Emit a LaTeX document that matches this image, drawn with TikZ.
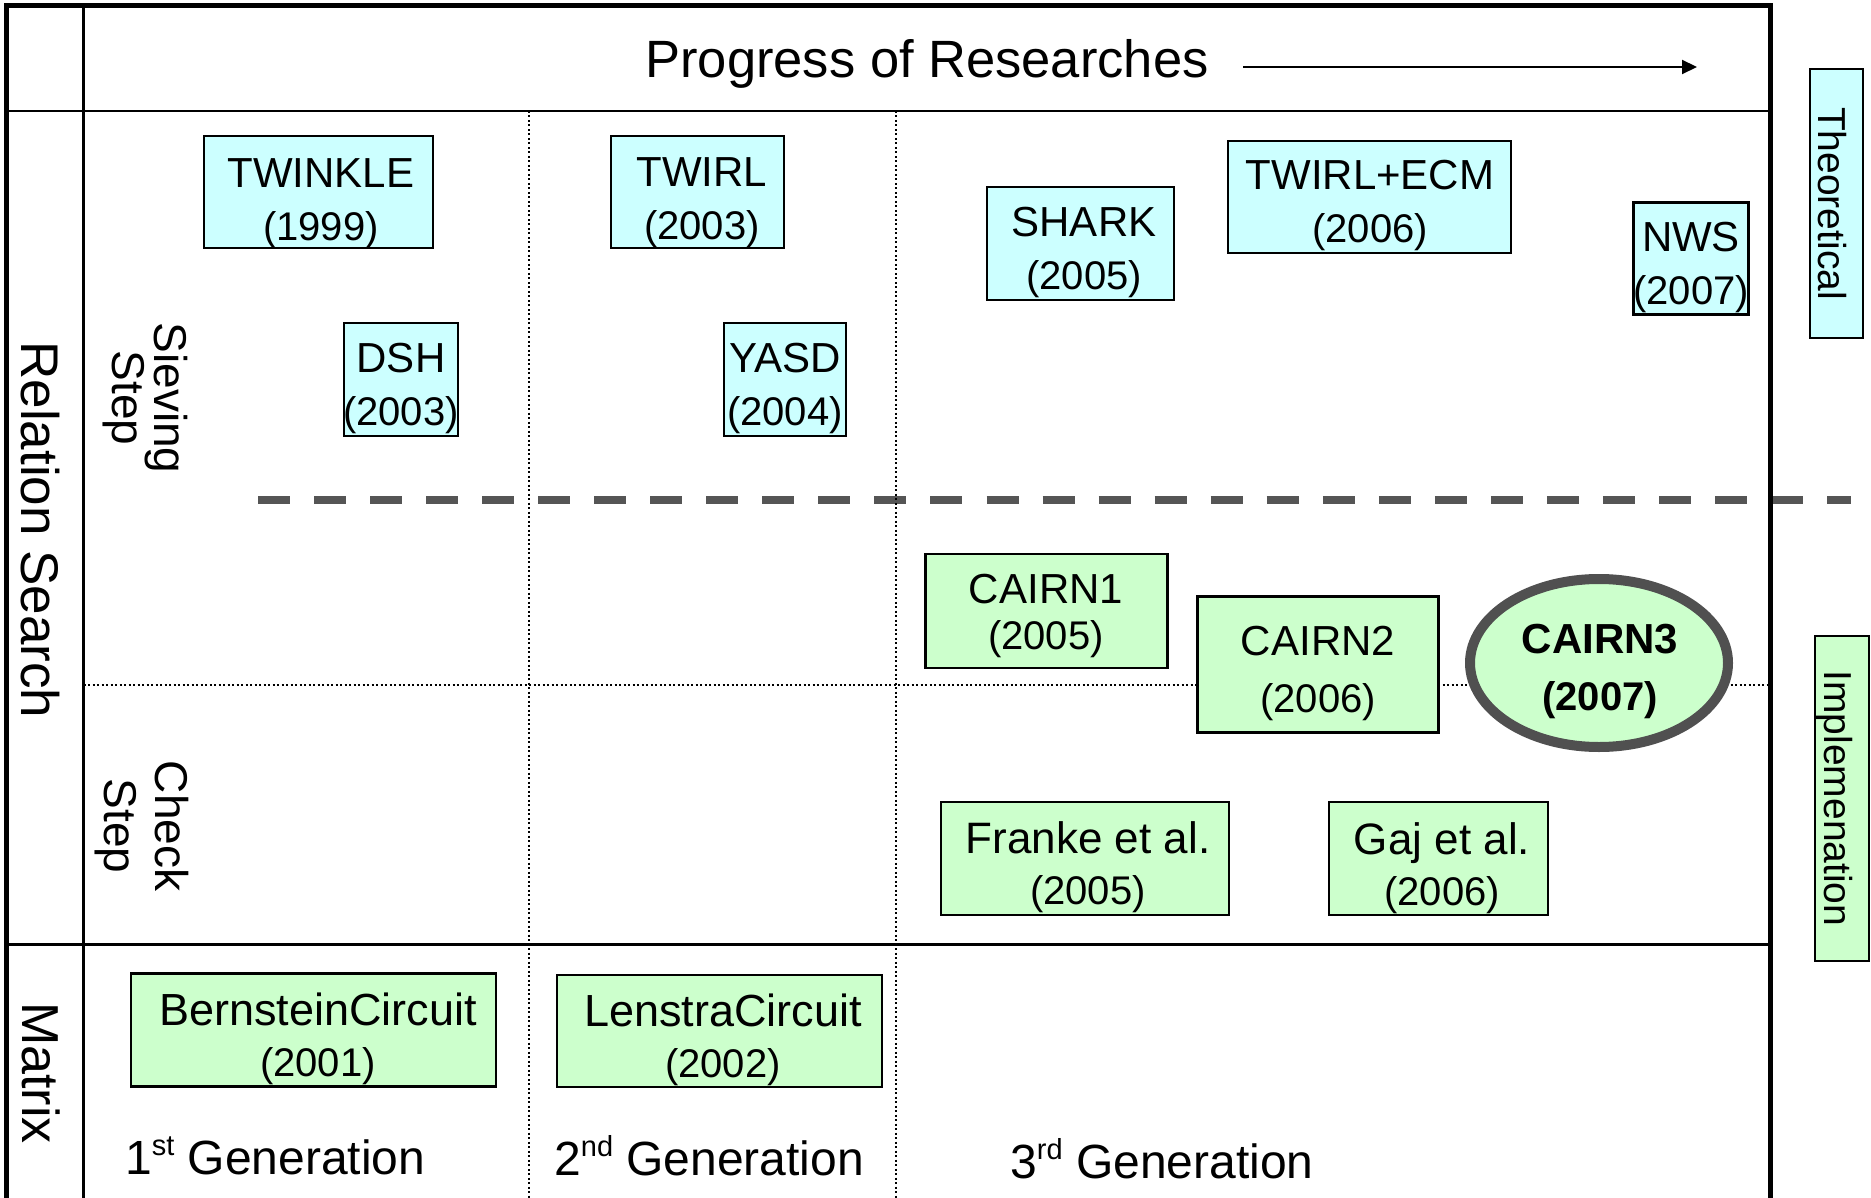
\documentclass[tikz,border=0pt]{standalone}
\usepackage{fontspec}
\setmainfont{Liberation Sans}
\usetikzlibrary{arrows.meta,shapes.geometric}
\definecolor{cyanfill}{HTML}{CCFFFF}
\definecolor{greenfill}{HTML}{CCFFCC}
\definecolor{dgray}{HTML}{555555}
\definecolor{rgray}{HTML}{505050}
\newcommand{\yrtxt}[1]{{\fontsize{40}{53}\selectfont #1}}
\newcommand{\ordsup}[1]{\raisebox{19pt}{\fontsize{29}{29}\selectfont #1}}
\begin{document}
\begin{tikzpicture}[x=1pt,y=-1pt,
  framerule/.style={line width=5pt},
  thinrule/.style={line width=2.7pt},
  midrule/.style={line width=3pt},
  dotrule/.style={line width=2pt, dash pattern=on 2pt off 2.5pt},
  sepdash/.style={line width=8pt, draw=dgray, dash pattern=on 32pt off 24.04pt},
  cbox/.style={draw, line width=2.5pt, fill=cyanfill, inner sep=0pt, rectangle},
  gbox/.style={draw, line width=2.5pt, fill=greenfill, inner sep=0pt, rectangle},
  btxt/.style={anchor=north, inner sep=0pt, align=center, font=\fontsize{42}{53}\selectfont},
  sidelbl/.style={rotate=-90, anchor=north, inner sep=0pt, font=\fontsize{53}{60}\selectfont},
  steplbl/.style={rotate=-90, anchor=north, inner sep=0pt, align=center},
  tagtxt/.style={rotate=-90, anchor=north, inner sep=0pt, font=\fontsize{39}{45}\selectfont},
  gentxt/.style={anchor=base west, inner sep=0pt, font=\fontsize{48}{52}\selectfont}
]
\useasboundingbox (0,0) rectangle (1871,1198);

% separating dashed line
\coordinate (dashS) at (258,500);
\coordinate (dashE) at (1851,500);
\draw[sepdash] (dashS) -- (dashE);

% grid lines
\draw[dotrule] (528.6,111) -- (528.6,1198);
\draw[dotrule] (896,111) -- (896,1198);
\draw[dotrule] (83.5,685) -- (1770,685);
\draw[thinrule] (6,111) -- (1770,111);
\draw[thinrule] (83.5,6) -- (83.5,1198);
\draw[midrule] (6,944) -- (1770,944);
\draw[framerule] (6,1198) -- (6,6) -- (1770,6) -- (1770,1198);

% header
\node[anchor=base, inner sep=0pt, font=\fontsize{52.5}{60}\selectfont] (hdr) at (927,78) {Progress of Researches};
\coordinate (arrS) at (1243,67);
\coordinate (arrE) at (1697,67);
\draw[line width=2pt, -{Triangle[length=15pt,width=14pt]}] (arrS) -- (arrE);

% left labels
\node[sidelbl] (rs) at (60,530) {Relation Search};
\node[sidelbl, font=\fontsize{52}{60}\selectfont] (mx) at (60,1073) {Matrix};
\node[steplbl, font=\fontsize{46}{42}\selectfont] (sv) at (188,398) {Sieving\\Step};
\node[steplbl, font=\fontsize{46}{51}\selectfont] (ck) at (189,826) {Check\\Step};

% theoretical boxes
\node[cbox, minimum width=229pt, minimum height=112pt] (twinkle) at (318.5,192) {};
\node[btxt] (twinkle-t) at (321,158) {TWINKLE\\\yrtxt{(1999)}};
\node[cbox, minimum width=114pt, minimum height=113pt] (dsh) at (401,379.5) {};
\node[btxt] (dsh-t) at (401,343) {DSH\\\yrtxt{(2003)}};
\node[cbox, minimum width=173pt, minimum height=112pt] (twirl) at (697.5,192) {};
\node[btxt] (twirl-t) at (702,157) {TWIRL\\\yrtxt{(2003)}};
\node[cbox, minimum width=122pt, minimum height=113pt] (yasd) at (785,379.5) {};
\node[btxt] (yasd-t) at (785,343) {YASD\\\yrtxt{(2004)}};
\node[cbox, minimum width=187pt, minimum height=113pt] (shark) at (1080.5,243.5) {};
\node[btxt] (shark-t) at (1084,207) {SHARK\\\yrtxt{(2005)}};
\node[cbox, minimum width=283pt, minimum height=112pt] (twirlecm) at (1369.5,197) {};
\node[btxt] (twirlecm-t) at (1370,160) {TWIRL+ECM\\\yrtxt{(2006)}};
\node[cbox, minimum width=115pt, minimum height=112pt] (nws) at (1691,258.5) {};
\node[btxt] (nws-t) at (1691,222) {NWS\\\yrtxt{(2007)}};

% implementation boxes
\node[gbox, minimum width=242pt, minimum height=114pt] (cairn1) at (1046.5,611) {};
\node[btxt, font=\fontsize{42}{46}\selectfont] (cairn1-t) at (1046,574) {CAIRN1\\\yrtxt{(2005)}};
\node[gbox, minimum width=241pt, minimum height=136pt] (cairn2) at (1318,664.5) {};
\node[btxt, font=\fontsize{42}{57}\selectfont] (cairn2-t) at (1318,626) {CAIRN2\\\yrtxt{(2006)}};
\node[ellipse, draw=rgray, line width=10pt, fill=greenfill, inner sep=0pt, minimum width=258pt, minimum height=168pt] (cairn3) at (1599,663) {};
\node[btxt, font=\bfseries\fontsize{42}{57}\selectfont] (cairn3-t) at (1600,624) {CAIRN3\\\yrtxt{(2007)}};
\node[gbox, minimum width=288pt, minimum height=113pt] (franke) at (1085,858.5) {};
\node[btxt, font=\fontsize{44}{51}\selectfont] (franke-t) at (1088,821) {Franke et al.\\\yrtxt{(2005)}};
\node[gbox, minimum width=219pt, minimum height=113pt] (gaj) at (1438.5,858.5) {};
\node[btxt, font=\fontsize{44}{51}\selectfont] (gaj-t) at (1442,822) {Gaj et al.\\\yrtxt{(2006)}};
\node[gbox, minimum width=365pt, minimum height=113pt] (bern) at (313.5,1030) {};
\node[btxt, font=\fontsize{45}{51}\selectfont] (bern-t) at (318,993) {BernsteinCircuit\\\yrtxt{(2001)}};
\node[gbox, minimum width=325pt, minimum height=112pt] (len) at (719.5,1031) {};
\node[btxt, font=\fontsize{45}{51}\selectfont] (len-t) at (723,994) {LenstraCircuit\\\yrtxt{(2002)}};

% side tags
\node[cbox, minimum width=53pt, minimum height=269pt] (theo) at (1836.5,203.5) {};
\node[tagtxt] (theo-t) at (1847,203.5) {Theoretical};
\node[gbox, minimum width=54pt, minimum height=325pt] (impl) at (1842,798.5) {};
\node[tagtxt] (impl-t) at (1853,798.5) {Implemenation};

% generations
\node[gentxt] (gen1) at (125,1174) {1\ordsup{st} Generation};
\node[gentxt] (gen2) at (554,1175) {2\ordsup{nd} Generation};
\node[gentxt] (gen3) at (1010,1178) {3\ordsup{rd} Generation};
\end{tikzpicture}
\end{document}
